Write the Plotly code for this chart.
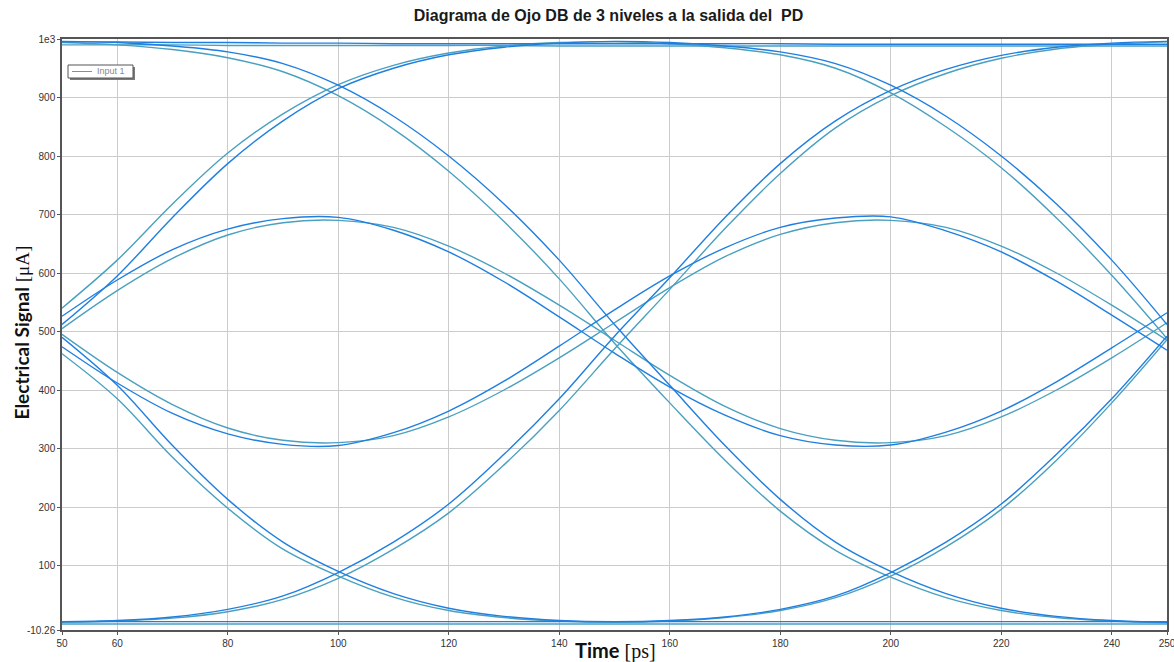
import plotly.graph_objects as go

# ---- data ----
time_ps = [50, 60, 70, 80, 90, 100, 110, 120, 130, 140, 150,
           160, 170, 180, 190, 200, 210, 220, 230, 240, 250]

# flat levels
top_flat_a = [995, 995, 994, 994, 993, 993, 992, 992, 992, 992, 992,
              992, 992, 992, 991, 991, 991, 991, 991, 991, 991]
top_flat_b = [990, 990, 990, 989, 989, 989, 989, 989, 989, 988, 988,
              988, 988, 988, 988, 988, 988, 988, 988, 988, 988]
bottom_flat_a = [4, 4, 4, 4, 4, 4, 4, 4, 4, 4, 4,
                 4, 4, 4, 4, 4, 4, 4, 4, 4, 4]
bottom_flat_b = [0, 0, 0, 0, 0, 0, 0, 0, 0, 0, 0,
                 0, 0, 0, 0, 0, 0, 0, 0, 0, 0]

# long fall 1000 -> 500 -> 0
fall_a = [996, 994, 988, 978, 958, 921, 868, 800, 718, 622, 512,
          408, 305, 213, 140, 90, 52, 27, 13, 6, 3]
fall_b = [994, 990, 982, 968, 944, 903, 846, 774, 688, 590, 480,
          378, 280, 193, 126, 80, 45, 23, 11, 5, 2]
# long rise 0 -> 500 -> 1000
rise_a = [4, 6, 12, 25, 48, 88, 140, 205, 290, 385, 492,
          592, 695, 787, 860, 912, 948, 972, 986, 993, 996]
rise_b = [3, 5, 10, 21, 42, 78, 128, 190, 272, 365, 470,
          572, 676, 770, 848, 903, 941, 967, 983, 991, 995]
# mid -> top -> mid
up_down_a = [512, 595, 695, 787, 860, 915, 950, 973, 986, 993, 996,
             994, 988, 978, 958, 921, 868, 800, 718, 622, 512]
up_down_b = [540, 622, 718, 805, 872, 922, 955, 976, 988, 994, 995,
             992, 985, 973, 950, 908, 850, 780, 694, 596, 488]
# mid -> bottom -> mid
down_up_a = [490, 408, 305, 213, 140, 90, 52, 27, 13, 6, 4,
             6, 12, 25, 48, 88, 140, 205, 290, 385, 492]
down_up_b = [462, 385, 285, 198, 128, 82, 46, 23, 11, 5, 3,
             5, 11, 23, 45, 82, 132, 196, 280, 378, 486]
# inner eye: hump then dip
hump_dip_a = [526, 588, 640, 675, 693, 695, 673, 636, 585, 525, 463,
              405, 357, 322, 306, 306, 328, 364, 414, 472, 532]
hump_dip_b = [505, 570, 625, 665, 686, 690, 678, 646, 600, 545, 485,
              425, 372, 334, 314, 310, 322, 354, 400, 455, 515]
# inner eye: dip then hump
dip_hump_a = [474, 412, 360, 325, 307, 305, 327, 364, 415, 475, 537,
              595, 643, 678, 694, 696, 672, 636, 586, 528, 468]
dip_hump_b = [495, 430, 375, 335, 314, 310, 322, 354, 400, 455, 515,
              575, 628, 666, 686, 690, 678, 646, 600, 545, 485]

series_a = [top_flat_a, bottom_flat_a, fall_a, rise_a, up_down_a,
            down_up_a, hump_dip_a, dip_hump_a]
series_b = [top_flat_b, bottom_flat_b, fall_b, rise_b, up_down_b,
            down_up_b, hump_dip_b, dip_hump_b]

x_tick_vals = [50, 60, 80, 100, 120, 140, 160, 180, 200, 220, 240, 250]
x_tick_text = ["50", "60", "80", "100", "120", "140", "160", "180",
               "200", "220", "240", "250"]
y_tick_vals = [-10.26, 100, 200, 300, 400, 500, 600, 700, 800, 900, 1000]
y_tick_text = ["-10.26", "100", "200", "300", "400", "500", "600", "700",
               "800", "900", "1e3"]

legend_label = "Input 1"

COLOR_A = "#1f7fe0"
COLOR_B = "#4aa0c0"
LEGEND_LINE = "#5f9ea8"

# plot area in pixels
L, R, T, B = 62, 7, 39, 32
W, H = 1174, 662
PW, PH = W - L - R, H - T - B


def px_x(px):
    return (px - L) / PW


def px_y(py):
    return 1 - (py - T) / PH


fig = go.Figure()
for ys in series_b:
    fig.add_trace(go.Scatter(x=time_ps, y=ys, mode="lines",
                             line=dict(color=COLOR_B, width=1.4, shape="spline", smoothing=1.0),
                             showlegend=False, hoverinfo="skip"))
for ys in series_a:
    fig.add_trace(go.Scatter(x=time_ps, y=ys, mode="lines",
                             line=dict(color=COLOR_A, width=1.4, shape="spline", smoothing=1.0),
                             showlegend=False, hoverinfo="skip"))

fig.update_layout(
    width=W, height=H,
    margin=dict(l=L, r=R, t=T, b=B),
    paper_bgcolor="white", plot_bgcolor="white",
    font=dict(family="Liberation Sans, Arial, sans-serif", size=10, color="#333"),
    showlegend=False,
    title=dict(text="<b>Diagrama de Ojo DB de 3 niveles a la salida del  PD</b>",
               x=608.5 / W, xref="container", xanchor="center",
               y=1 - 15 / H, yref="container", yanchor="middle",
               font=dict(family="Liberation Sans, Arial, sans-serif", size=16, color="#1a1a1a")),
)

fig.update_xaxes(range=[50, 250], tickvals=x_tick_vals, ticktext=x_tick_text,
                 automargin=False, ticklabeloverflow="allow",
                 showgrid=True, gridcolor="#cccccc", gridwidth=1,
                 showline=True, linecolor="#555", linewidth=1.5, mirror=True,
                 ticks="outside", ticklen=3, tickcolor="#555",
                 zeroline=False, tickfont=dict(size=10, color="#333"))
fig.update_yaxes(range=[-10.26, 1000], tickvals=y_tick_vals, ticktext=y_tick_text,
                 automargin=False, ticklabeloverflow="allow",
                 showgrid=True, gridcolor="#cccccc", gridwidth=1,
                 showline=True, linecolor="#555", linewidth=1.5, mirror=True,
                 ticks="outside", ticklen=3, tickcolor="#555",
                 zeroline=False, tickfont=dict(size=10, color="#333"))

# legend box (drawn by hand to match the small boxed legend)
fig.add_shape(type="rect", xref="paper", yref="paper",
              x0=px_x(70), x1=px_x(135), y0=px_y(80), y1=px_y(67),
              line=dict(width=0), fillcolor="#7a7a7a", layer="above")
fig.add_shape(type="rect", xref="paper", yref="paper",
              x0=px_x(68), x1=px_x(133), y0=px_y(78), y1=px_y(65),
              line=dict(width=1, color="#555"), fillcolor="white", layer="above")
fig.add_shape(type="line", xref="paper", yref="paper",
              x0=px_x(72), x1=px_x(92), y0=px_y(71.5), y1=px_y(71.5),
              line=dict(width=1, color=LEGEND_LINE), layer="above")
fig.add_annotation(text=legend_label, xref="paper", yref="paper",
                   x=px_x(95), y=px_y(71.5), xanchor="left", yanchor="middle",
                   showarrow=False,
                   font=dict(family="Liberation Sans, Arial, sans-serif", size=9, color="#8a8a8a"))

fig.add_annotation(
    text='<b>Electrical Signal</b> <span style="font-family:Liberation Serif">[μA]</span>',
    xref="paper", yref="paper", x=px_x(21), y=px_y(332.5),
    xanchor="center", yanchor="middle", textangle=-90, showarrow=False,
    font=dict(family="Lato, Open Sans, sans-serif", size=19, color="#111"))
fig.add_annotation(
    text='<b>Time</b> <span style="font-family:Liberation Serif">[ps]</span>',
    xref="paper", yref="paper", x=px_x(615), y=px_y(650),
    xanchor="center", yanchor="middle", showarrow=False,
    font=dict(family="Lato, Open Sans, sans-serif", size=20, color="#111"))

fig.write_html("out.html")
